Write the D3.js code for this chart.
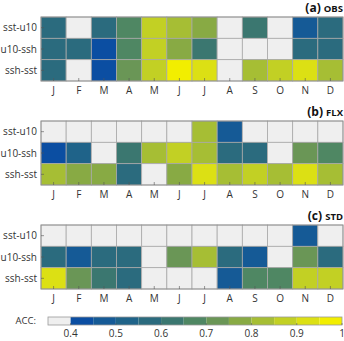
<!DOCTYPE html>
<html>
<head>
<meta charset="utf-8">
<script src="https://cdn.jsdelivr.net/npm/d3@7"></script>
<style>
  body { margin: 0; background: #fff; }
  text { font-family: "Open Sans", sans-serif; fill: #333; }
</style>
</head>
<body>
<svg width="344" height="341"></svg>
<script>
const months = ["J", "F", "M", "A", "M", "J", "J", "A", "S", "O", "N", "D"];
const pairs = ["sst-u10", "u10-ssh", "ssh-sst"];
const panelTags = ["(a)", "(b)", "(c)"];
const panelNames = ["OBS", "FLX", "STD"];

// ACC values per panel, rows = pairs, columns = months (below 0.4 shows grey)
const accObs = [
  [0.57, 0.37, 0.57, 0.67, 0.88, 0.82, 0.77, 0.37, 0.62, 0.37, 0.47, 0.57],
  [0.57, 0.56, 0.42, 0.67, 0.88, 0.77, 0.61, 0.37, 0.37, 0.37, 0.56, 0.57],
  [0.57, 0.37, 0.42, 0.72, 0.88, 0.97, 0.92, 0.37, 0.82, 0.88, 0.90, 0.82]
];
const accFlx = [
  [0.37, 0.37, 0.37, 0.37, 0.37, 0.37, 0.82, 0.47, 0.37, 0.37, 0.37, 0.37],
  [0.42, 0.52, 0.37, 0.62, 0.82, 0.87, 0.82, 0.57, 0.57, 0.37, 0.72, 0.67],
  [0.82, 0.77, 0.77, 0.57, 0.37, 0.77, 0.92, 0.82, 0.87, 0.82, 0.92, 0.82]
];
const accStd = [
  [0.37, 0.37, 0.37, 0.37, 0.37, 0.37, 0.37, 0.37, 0.37, 0.37, 0.47, 0.37],
  [0.57, 0.47, 0.57, 0.57, 0.37, 0.72, 0.82, 0.57, 0.47, 0.37, 0.72, 0.57],
  [0.92, 0.72, 0.62, 0.57, 0.37, 0.37, 0.37, 0.47, 0.67, 0.67, 0.87, 0.85]
];
const panels = [accObs, accFlx, accStd];

const binEdges = [0.35, 0.4, 0.45, 0.5, 0.55, 0.6, 0.65, 0.7, 0.75, 0.8, 0.85, 0.9, 0.95, 1.0];
const binColors = ["#efefef", "#0b4ea2", "#155a96", "#1f6389", "#2b6b7e", "#3b7770", "#4f8763",
                   "#6a9656", "#88aa44", "#a6be34", "#c2d024", "#dce014", "#f2ee00"];
const cbTicks = [0.4, 0.5, 0.6, 0.7, 0.8, 0.9, 1];

const color = d3.scaleThreshold()
  .domain(binEdges.slice(1, -1))
  .range(binColors);

const svg = d3.select("svg");
const left = 41, right = 343;
const panelTops = [17, 121, 225];
const gridH = 64;

const x = d3.scaleBand().domain(d3.range(12)).range([left, right]);
const y = d3.scaleBand().domain(pairs).range([0, gridH]);

panels.forEach((mat, p) => {
  const g = svg.append("g").attr("transform", `translate(0,${panelTops[p]})`);

  const cells = mat.flatMap((row, r) => row.map((v, c) => ({ v, r, c })));
  g.selectAll("rect.cell")
    .data(cells)
    .join("rect")
    .attr("class", "cell")
    .attr("x", d => x(d.c))
    .attr("y", d => y(pairs[d.r]))
    .attr("width", x.bandwidth())
    .attr("height", y.bandwidth())
    .attr("fill", d => color(d.v))
    .attr("stroke", "#a8a8a8")
    .attr("stroke-width", 0.8);

  // frame
  g.append("rect")
    .attr("x", left).attr("y", 0)
    .attr("width", right - left).attr("height", gridH)
    .attr("fill", "none").attr("stroke", "#8a8a8a").attr("stroke-width", 0.8);

  // row labels + inner ticks
  g.selectAll("text.row")
    .data(pairs)
    .join("text")
    .attr("class", "row")
    .attr("x", left - 4)
    .attr("y", d => y(d) + y.bandwidth() / 2)
    .attr("dy", "0.35em")
    .attr("text-anchor", "end")
    .attr("font-size", "10px")
    .text(d => d);
  g.selectAll("line.rt")
    .data(pairs)
    .join("line")
    .attr("x1", left).attr("x2", left + 3)
    .attr("y1", d => y(d) + y.bandwidth() / 2)
    .attr("y2", d => y(d) + y.bandwidth() / 2)
    .attr("stroke", "#555").attr("stroke-width", 0.6);

  // month ticks + labels
  g.selectAll("line.mt")
    .data(months)
    .join("line")
    .attr("x1", (d, i) => x(i) + x.bandwidth() / 2)
    .attr("x2", (d, i) => x(i) + x.bandwidth() / 2)
    .attr("y1", gridH).attr("y2", gridH - 3)
    .attr("stroke", "#555").attr("stroke-width", 0.6);
  g.selectAll("text.mon")
    .data(months)
    .join("text")
    .attr("class", "mon")
    .attr("x", (d, i) => x(i) + x.bandwidth() / 2)
    .attr("y", gridH + 13)
    .attr("text-anchor", "middle")
    .attr("font-size", "10px")
    .text(d => d);

  // title
  const t = g.append("text")
    .attr("x", right)
    .attr("y", -5)
    .attr("text-anchor", "end")
    .attr("font-weight", "bold")
    .style("fill", "#111");
  t.append("tspan").attr("font-size", "12px").text(panelTags[p] + " ");
  t.append("tspan").attr("font-size", "9.5px").text(panelNames[p]);
});

// colorbar
const cbX = d3.scaleLinear().domain([0.35, 1.0]).range([48, 342]);
const cbY = 317, cbH = 8;
const cb = svg.append("g");
cb.selectAll("rect.bin")
  .data(binColors)
  .join("rect")
  .attr("x", (d, i) => cbX(binEdges[i]))
  .attr("y", cbY)
  .attr("width", (d, i) => cbX(binEdges[i + 1]) - cbX(binEdges[i]))
  .attr("height", cbH)
  .attr("fill", d => d);
cb.append("rect")
  .attr("x", cbX(0.35)).attr("y", cbY)
  .attr("width", cbX(1) - cbX(0.35)).attr("height", cbH)
  .attr("fill", "none").attr("stroke", "#999").attr("stroke-width", 0.8);
cb.selectAll("line.cbt")
  .data(cbTicks)
  .join("line")
  .attr("x1", d => cbX(d)).attr("x2", d => cbX(d))
  .attr("y1", cbY + cbH).attr("y2", cbY + cbH - 2)
  .attr("stroke", "#555").attr("stroke-width", 0.6);
cb.selectAll("text.cbl")
  .data(cbTicks)
  .join("text")
  .attr("x", d => cbX(d))
  .attr("y", cbY + cbH + 12)
  .attr("text-anchor", "middle")
  .attr("font-size", "10px")
  .text(d => d3.format("~g")(d));
cb.append("text")
  .attr("x", 36)
  .attr("y", cbY + cbH / 2)
  .attr("dy", "0.35em")
  .attr("text-anchor", "end")
  .attr("font-size", "9.5px")
  .text("ACC:");
</script>
</body>
</html>
